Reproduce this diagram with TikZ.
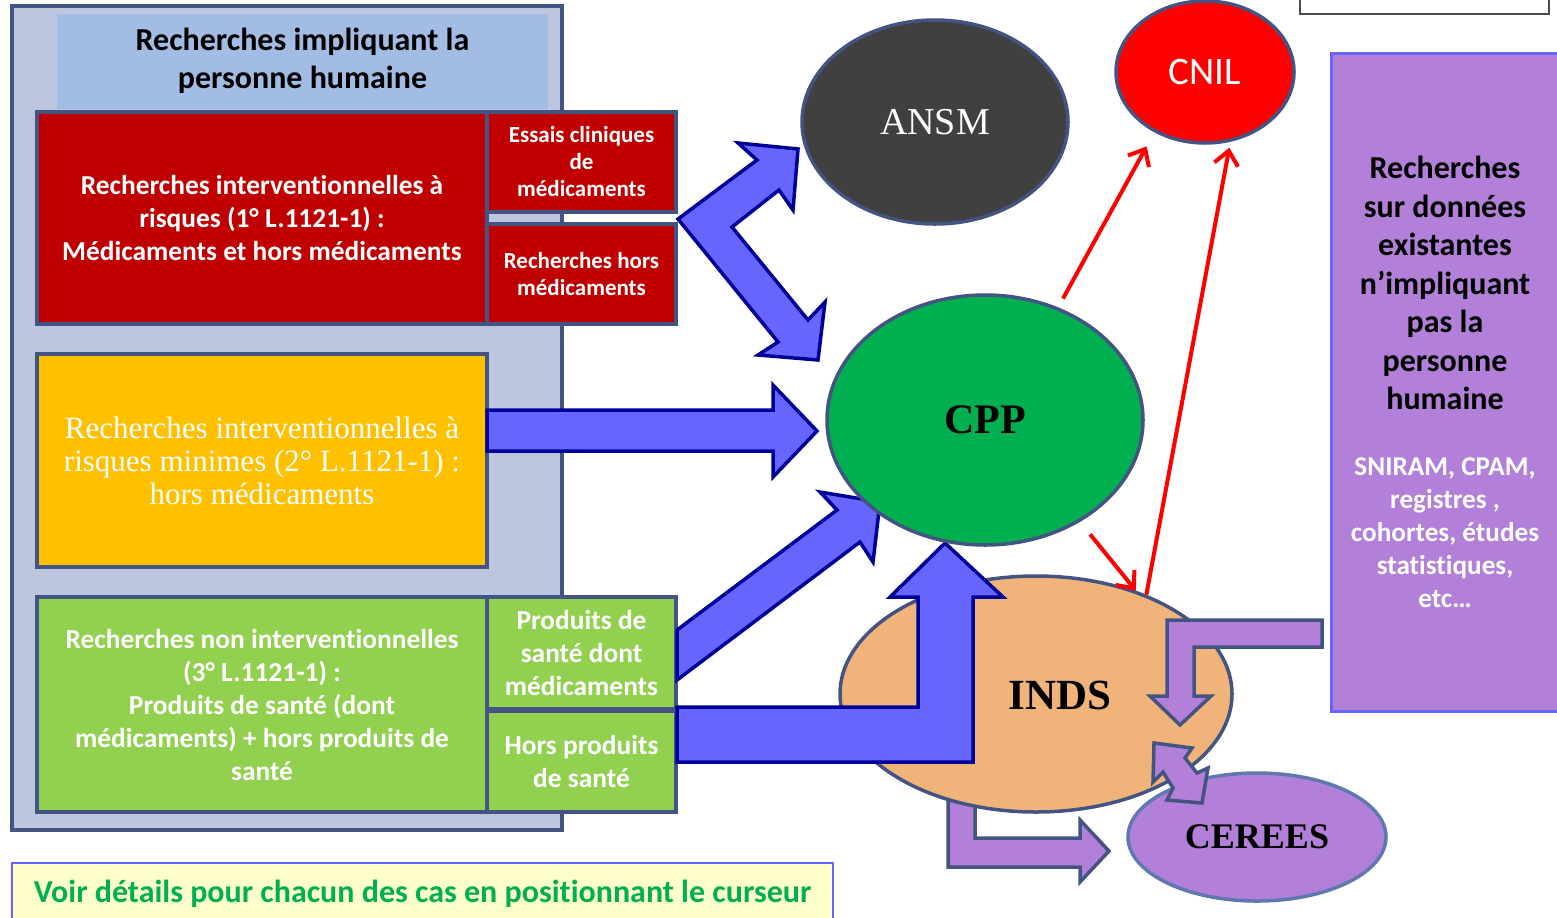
\documentclass[tikz,border=0pt]{standalone}
\usepackage{fontspec}
\setmainfont[Ligatures={NoCommon}]{Carlito}
\newfontfamily\antiqua{Liberation Serif}
\usetikzlibrary{positioning}
\usetikzlibrary{shapes.geometric}
\usetikzlibrary{arrows.meta}

\definecolor{slate}{RGB}{68,84,130}
\definecolor{greyblue}{RGB}{188,199,223}
\definecolor{headblue}{RGB}{163,188,227}
\definecolor{darkred}{RGB}{192,0,0}
\definecolor{amber}{RGB}{255,192,0}
\definecolor{lime}{RGB}{146,208,80}
\definecolor{arrowblue}{RGB}{102,102,255}
\definecolor{arrownavy}{RGB}{0,0,153}
\definecolor{charcoal}{RGB}{64,64,64}
\definecolor{cppgreen}{RGB}{0,176,80}
\definecolor{tan}{RGB}{240,180,122}
\definecolor{lilac}{RGB}{178,128,216}
\definecolor{lilacedge}{RGB}{102,102,255}
\definecolor{ovaledge}{RGB}{96,120,176}
\definecolor{paleyellow}{RGB}{255,255,204}

\begin{document}
\begin{tikzpicture}[x=0.5pt, y=-0.5pt,
    box/.style={draw=slate, line width=1.75pt, inner sep=0pt, align=center, text=white,
        font=\bfseries\fontsize{13.7}{16.5}\selectfont},
    oval/.style={ellipse, draw=slate, line width=1.75pt, inner sep=0pt},
    bigarrow/.style={draw=arrownavy, fill=arrowblue, line width=1.75pt},
    lilacarrow/.style={draw=slate, fill=lilac, line width=1.75pt},
    redline/.style={draw=red, line width=2pt, -{Straight Barb[length=7pt,width=12pt]}}]
    \useasboundingbox (0,0) rectangle (1557,917);

    % left block
    \node[box, fill=greyblue, minimum width=275pt, minimum height=412pt] (outer) at (287,418) {};
    \node[fill=headblue, inner sep=0pt, minimum width=245.5pt, minimum height=47.5pt, align=center,
        font=\bfseries\fontsize{16}{19}\selectfont] (head) at (302.5,61) {Recherches impliquant la\\personne humaine};

    \node[box, fill=darkred, minimum width=225pt, minimum height=106pt] (risk) at (262,218)
        {Recherches interventionnelles à\\risques (1° L.1121-1) :\\Médicaments et hors médicaments};
    \node[box, fill=darkred, minimum width=94.5pt, minimum height=50pt,
        font=\bfseries\fontsize{11.5}{13.5}\selectfont] (essais) at (581.5,162) {Essais cliniques\\de\\médicaments};
    \node[box, fill=darkred, minimum width=94.5pt, minimum height=50pt,
        font=\bfseries\fontsize{11.5}{13.5}\selectfont] (horsmed) at (581.5,274) {Recherches hors\\médicaments};

    \node[box, fill=amber, minimum width=225pt, minimum height=106.5pt,
        font=\antiqua\fontsize{15.5}{16.5}\selectfont] (minimes) at (262,460.5)
        {Recherches interventionnelles à\\risques minimes (2° L.1121-1) :\\hors médicaments};

    \node[box, fill=lime, minimum width=225pt, minimum height=107.5pt] (nonint) at (262,704.5)
        {Recherches non interventionnelles\\(3° L.1121-1) :\\Produits de santé (dont\\médicaments) + hors produits de\\santé};
    \node[box, fill=lime, minimum width=94.5pt, minimum height=56pt] (produits) at (581.5,653)
        {Produits de\\santé dont\\médicaments};
    \node[box, fill=lime, minimum width=94.5pt, minimum height=50.5pt] (horsprod) at (581.5,761.5)
        {Hors produits\\de santé};

    \node[draw=lilacedge, line width=0.6pt, fill=paleyellow, minimum width=410.5pt, minimum height=31pt,
        text=cppgreen, font=\bfseries\fontsize{16}{19}\selectfont] (hint) at (422.5,894)
        {Voir détails pour chacun des cas en positionnant le curseur};

    \node[draw=black!70, line width=0.6pt, fill=white, minimum width=124.5pt, minimum height=10pt] (blank) at (1424.5,4) {};

    % right block
    \node[draw=lilacedge, line width=1.5pt, fill=lilac, minimum width=115pt, minimum height=329pt] (existing) at (1446,382) {};
    \node[align=center, font=\bfseries\fontsize{16}{19.25}\selectfont] (existtxt) at (1445,283)
        {Recherches\\sur données\\existantes\\n’impliquant\\pas la\\personne\\humaine};
    \node[align=center, text=white, font=\bfseries\fontsize{13.6}{16.5}\selectfont] (bases) at (1445,533)
        {SNIRAM, CPAM,\\registres ,\\cohortes, études\\statistiques,\\etc…};

    % authorities
    \node[oval, fill=charcoal, minimum width=133pt, minimum height=102pt, text=white,
        font=\antiqua\fontsize{19}{22}\selectfont] (ansm) at (935,122) {ANSM};
    \node[oval, fill=red, minimum width=89pt, minimum height=71pt, text=white,
        font=\fontsize{19.5}{22}\selectfont] (cnil) at (1205,72) {CNIL};

    \draw[lilacarrow] (948,790) -- (975,790) -- (975,838) -- (1080,838) -- (1080,820) -- (1109,851)
        -- (1080,882) -- (1080,867) -- (948,867) -- cycle;
    \node[oval, fill=tan, minimum width=196pt, minimum height=118pt] (inds) at (1036,694) {};
    \node[font=\antiqua\bfseries\fontsize{21.5}{24}\selectfont] (indstxt) at (1060,695) {INDS};

    % blue arrows
    \draw[bigarrow] (487,410) -- (773,410) -- (773,385) -- (817,431) -- (773,477) -- (773,451) -- (487,451) -- cycle;
    \draw[bigarrow] (678,219) -- (757,160) -- (738,143) -- (798,149) -- (793,210) -- (779,190) -- (732,227)
        -- (808,320) -- (825,302) -- (818,360) -- (758,355) -- (778,342) -- cycle;
    \draw[bigarrow] (677,630) -- (837,510) -- (820,492) -- (880,502) -- (873,562) -- (860,542) -- (677,680) -- cycle;
    \draw[bigarrow] (677,707) -- (918,707) -- (918,597) -- (890,597) -- (945,543) -- (1003,597) -- (973,597)
        -- (973,762) -- (677,762) -- cycle;

    \node[oval, fill=cppgreen, minimum width=158pt, minimum height=125pt,
        font=\antiqua\bfseries\fontsize{21}{24}\selectfont] (cpp) at (985,420) {CPP};

    \node[oval, draw=ovaledge, fill=lilac, minimum width=129pt, minimum height=64pt,
        font=\antiqua\bfseries\fontsize{18}{22}\selectfont] (cerees) at (1257,837) {CEREES};

    % purple arrows
    \draw[lilacarrow] (1322,620) -- (1167,620) -- (1167,696) -- (1150,696) -- (1180,725) -- (1211,696)
        -- (1194,696) -- (1194,647) -- (1322,647) -- cycle;
    \draw[lilacarrow] (1154,743) -- (1192,748) -- (1185,758) -- (1197,773) -- (1208,768) -- (1202,803)
        -- (1167,800) -- (1173,788) -- (1163,772) -- (1153,782) -- cycle;

    % red arrows
    \draw[redline, shorten <=5pt, shorten >=8pt] (cpp.57) -- (cnil.230);
    \draw[redline, shorten >=3pt] (inds.42) -- (cnil.290);
    \draw[redline, shorten <=8pt] (cpp.313) -- (inds.46);
\end{tikzpicture}
\end{document}
